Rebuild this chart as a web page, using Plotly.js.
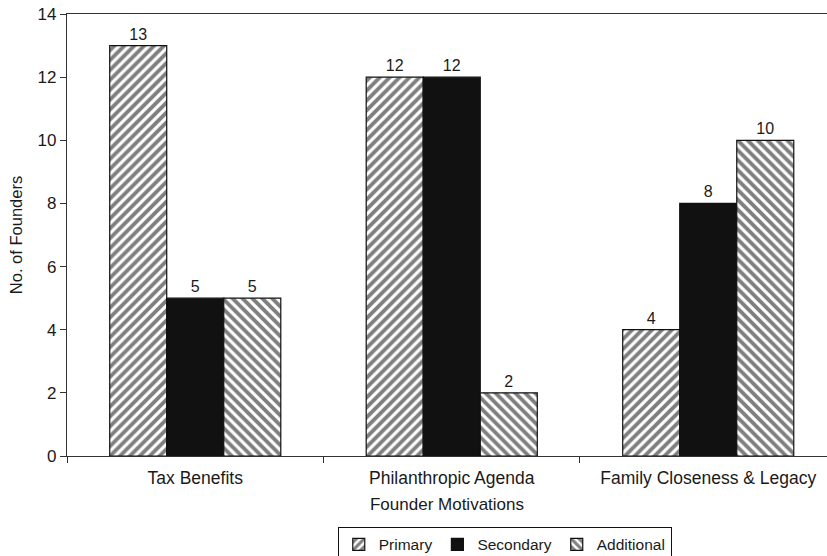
<!DOCTYPE html>
<html><head><meta charset="utf-8">
<script src="https://cdn.plot.ly/plotly-3.0.1.min.js"></script>
<style>html,body{margin:0;padding:0;background:#fff;overflow:hidden}</style>
</head><body>
<div id="chart" style="width:827px;height:556px"></div>
<script>
const categories = ["Tax Benefits", "Philanthropic Agenda", "Family Closeness & Legacy"];
const primary = [13, 12, 4];
const secondary = [5, 12, 8];
const additional = [5, 2, 10];
const yTicks = [0, 2, 4, 6, 8, 10, 12, 14];

const ink = "#1a1a1a";
const font = {family: "Liberation Sans, Arial, sans-serif", color: ink, size: 16};
function bar(name, y, pattern, color) {
  return {
    type: "bar", name: name, x: categories, y: y,
    text: y.map(String), textposition: "outside", cliponaxis: false,
    textfont: {size: 16, color: ink},
    marker: {color: color, line: {color: "#111", width: 1.2},
      pattern: pattern}
  };
}
const data = [
  bar("Primary", primary, {shape: "/", fgcolor: "#000", bgcolor: "#fff", size: 7, solidity: 0.55, fillmode: "overlay"}, "#fff"),
  bar("Secondary", secondary, {shape: ""}, "#111"),
  bar("Additional", additional, {shape: "\\", fgcolor: "#000", bgcolor: "#fff", size: 7, solidity: 0.55, fillmode: "overlay"}, "#fff")
];
const layout = {
  width: 827, height: 556,
  margin: {l: 67, r: 0, t: 14, b: 100, autoexpand: false},
  paper_bgcolor: "#fff", plot_bgcolor: "#fff",
  font: font,
  barmode: "group", bargap: 0.333, bargroupgap: 0,
  showlegend: true,
  legend: {orientation: "h", x: 0.576, xanchor: "center", y: -0.16, yanchor: "top",
    bordercolor: "#111", borderwidth: 1, font: {size: 15.5, color: ink},
    itemwidth: 30, tracegroupgap: 0, itemclick: false},
  xaxis: {
    type: "category", range: [-0.5, 2.463],
    showline: true, linecolor: "#333", linewidth: 1.2, mirror: true,
    ticks: "outside", tickson: "boundaries", ticklen: 6, tickcolor: "#333",
    ticklabelstandoff: 6,
    tickfont: {size: 17.5, color: ink},
    showgrid: false, zeroline: false,
    title: {text: "Founder Motivations", font: {size: 17, color: ink}, standoff: 10}
  },
  yaxis: {
    range: [0, 14], tickvals: yTicks, ticktext: yTicks.map(String),
    showline: true, linecolor: "#333", linewidth: 1.2,
    ticks: "outside", ticklen: 6, tickcolor: "#333",
    tickfont: {size: 17, color: ink},
    showgrid: false, zeroline: false,
    title: {text: "No. of Founders", font: {size: 16.5, color: ink}, standoff: 10}
  }
};
Plotly.newPlot("chart", data, layout, {displayModeBar: false, staticPlot: true});
</script>
</body></html>
